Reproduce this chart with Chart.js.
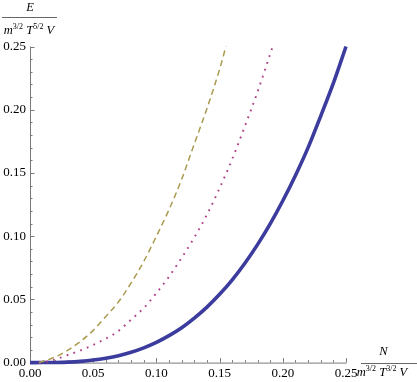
<!DOCTYPE html>
<html>
<head>
<meta charset="utf-8">
<script src="https://cdn.jsdelivr.net/npm/chart.js@4/dist/chart.umd.min.js"></script>
<style>
  html, body { margin: 0; padding: 0; background: #fff; }
  canvas { display: block; }
</style>
</head>
<body>
<canvas id="c" width="417" height="382"></canvas>
<script>
// ---- data ----
const solidX  = [0, 0.01, 0.02, 0.03, 0.04, 0.05, 0.06, 0.07, 0.08, 0.09, 0.10, 0.11, 0.12, 0.13, 0.14, 0.15, 0.16, 0.17, 0.18, 0.19, 0.20, 0.21, 0.22, 0.23, 0.24, 0.25];
const solidY  = [0, 0.00002, 0.00013, 0.0004, 0.001, 0.002, 0.0035, 0.0055, 0.0082, 0.0117, 0.016, 0.0213, 0.0276, 0.0352, 0.0439, 0.054, 0.0655, 0.0786, 0.0933, 0.1097, 0.128, 0.148, 0.170, 0.195, 0.221, 0.25];

const dottedX = [0.007, 0.01, 0.02, 0.03, 0.04, 0.05, 0.06, 0.07, 0.08, 0.09, 0.10, 0.11, 0.12, 0.13, 0.14, 0.15, 0.16, 0.17, 0.18, 0.19, 0.192];
const dottedY = [0, 0.0003, 0.0025, 0.006, 0.0097, 0.014, 0.019, 0.025, 0.034, 0.0432, 0.055, 0.068, 0.083, 0.099, 0.117, 0.138, 0.161, 0.187, 0.214, 0.244, 0.25];

const dashedX = [0.007, 0.01, 0.02, 0.03, 0.04, 0.05, 0.06, 0.07, 0.08, 0.09, 0.10, 0.11, 0.12, 0.13, 0.14, 0.15, 0.155];
const dashedY = [0, 0.0008, 0.0045, 0.0098, 0.0168, 0.0255, 0.0365, 0.048, 0.063, 0.080, 0.100, 0.121, 0.145, 0.173, 0.201, 0.232, 0.25];

const xTicks = [0, 0.05, 0.10, 0.15, 0.20, 0.25];
const yTicks = [0, 0.05, 0.10, 0.15, 0.20, 0.25];
const minorStep = 0.01;

const pts = (xs, ys) => xs.map((x, i) => ({ x: x, y: ys[i] }));

const SERIF = '"Liberation Serif", "DejaVu Serif", serif';
const AXIS_COLOR = '#7a7a7a';

function drawRuns(ctx, runs, cx, baseline) {
  // runs: [text, fontSize, italic, raise]
  let total = 0;
  runs.forEach(r => { ctx.font = (r[2] ? 'italic ' : '') + r[1] + 'px ' + SERIF; total += ctx.measureText(r[0]).width; });
  let x = cx - total / 2;
  ctx.textAlign = 'left';
  ctx.textBaseline = 'alphabetic';
  runs.forEach(r => {
    ctx.font = (r[2] ? 'italic ' : '') + r[1] + 'px ' + SERIF;
    ctx.fillText(r[0], x, baseline - r[3]);
    x += ctx.measureText(r[0]).width;
  });
}

const axesPlugin = {
  id: 'mmaAxes',
  beforeDatasetsDraw(chart) {
    const ctx = chart.ctx;
    const xs = chart.scales.x, ys = chart.scales.y;
    const x0 = xs.getPixelForValue(0), x1 = xs.getPixelForValue(0.25);
    const y0 = ys.getPixelForValue(0), y1 = ys.getPixelForValue(0.25);
    ctx.save();
    ctx.strokeStyle = AXIS_COLOR;
    ctx.lineWidth = 1;
    ctx.beginPath();
    ctx.moveTo(x0, y0 + 0.5); ctx.lineTo(x1 + 0.5, y0 + 0.5);
    ctx.moveTo(x0 + 0.5, y0); ctx.lineTo(x0 + 0.5, y1);
    for (let k = 0; k <= 25; k++) {
      const v = k * minorStep;
      const major = k % 5 === 0;
      const len = major ? 4.5 : 2.5;
      const px = Math.round(xs.getPixelForValue(v)) + 0.5;
      ctx.moveTo(px, y0); ctx.lineTo(px, y0 - len);
      const py = Math.round(ys.getPixelForValue(v)) + 0.5;
      ctx.moveTo(x0, py); ctx.lineTo(x0 + len, py);
    }
    ctx.stroke();
    ctx.restore();
  },
  afterDraw(chart) {
    const ctx = chart.ctx;
    ctx.save();
    ctx.fillStyle = '#000';
    drawRuns(ctx, [['E', 12.5, true, 0]], 30, 11);
    ctx.strokeStyle = '#666'; ctx.lineWidth = 1;
    ctx.beginPath(); ctx.moveTo(2, 17.5); ctx.lineTo(57, 17.5); ctx.stroke();
    drawRuns(ctx, [['m', 12.5, true, 0], ['3/2', 8, false, 5], [' T', 12.5, true, 0], ['5/2', 8, false, 5], [' V', 12.5, true, 0]], 29, 33.5);
    drawRuns(ctx, [['N', 12.5, true, 0]], 383.5, 355);
    ctx.beginPath(); ctx.moveTo(361, 363.5); ctx.lineTo(417, 363.5); ctx.stroke();
    drawRuns(ctx, [['m', 12.5, true, 0], ['3/2', 8, false, 5], [' T', 12.5, true, 0], ['3/2', 8, false, 5], [' V', 12.5, true, 0]], 382, 375.5);
    ctx.restore();
  }
};

new Chart(document.getElementById('c'), {
  type: 'scatter',
  data: {
    datasets: [
      { data: pts(solidX, solidY), showLine: true, borderColor: 'rgb(60,60,158)', borderWidth: 3.6,
        pointRadius: 0, cubicInterpolationMode: 'monotone', clip: 6, order: 3 },
      { data: pts(dottedX, dottedY), showLine: true, borderColor: 'rgb(175,65,135)', borderWidth: 1.9,
        borderDash: [1.8, 5.4], pointRadius: 0, cubicInterpolationMode: 'monotone', clip: 6, order: 2 },
      { data: pts(dashedX, dashedY), showLine: true, borderColor: 'rgb(170,155,80)', borderWidth: 1.5,
        borderDash: [6, 4], pointRadius: 0, cubicInterpolationMode: 'monotone', clip: 6, order: 1 }
    ]
  },
  options: {
    responsive: false,
    animation: false,
    devicePixelRatio: 1,
    layout: { padding: { top: 46.5, right: 71, left: 0, bottom: 0 } },
    plugins: { legend: { display: false }, tooltip: { enabled: false } },
    events: [],
    scales: {
      x: {
        type: 'linear', min: 0, max: 0.25,
        afterFit(s) { s.height = 19.4; },
        afterBuildTicks(s) { s.ticks = xTicks.map(v => ({ value: v })); },
        grid: { display: false, drawTicks: false },
        border: { display: false },
        ticks: { callback: v => v.toFixed(2), font: { family: SERIF, size: 13 }, color: '#000',
                 padding: 3, maxRotation: 0, autoSkip: false }
      },
      y: {
        type: 'linear', min: 0, max: 0.25,
        afterFit(s) { s.width = 30; },
        afterBuildTicks(s) { s.ticks = yTicks.map(v => ({ value: v })); },
        grid: { display: false, drawTicks: false },
        border: { display: false },
        ticks: { callback: v => v.toFixed(2), font: { family: SERIF, size: 13 }, color: '#000',
                 padding: 4, autoSkip: false }
      }
    }
  },
  plugins: [axesPlugin]
});
</script>
</body>
</html>
